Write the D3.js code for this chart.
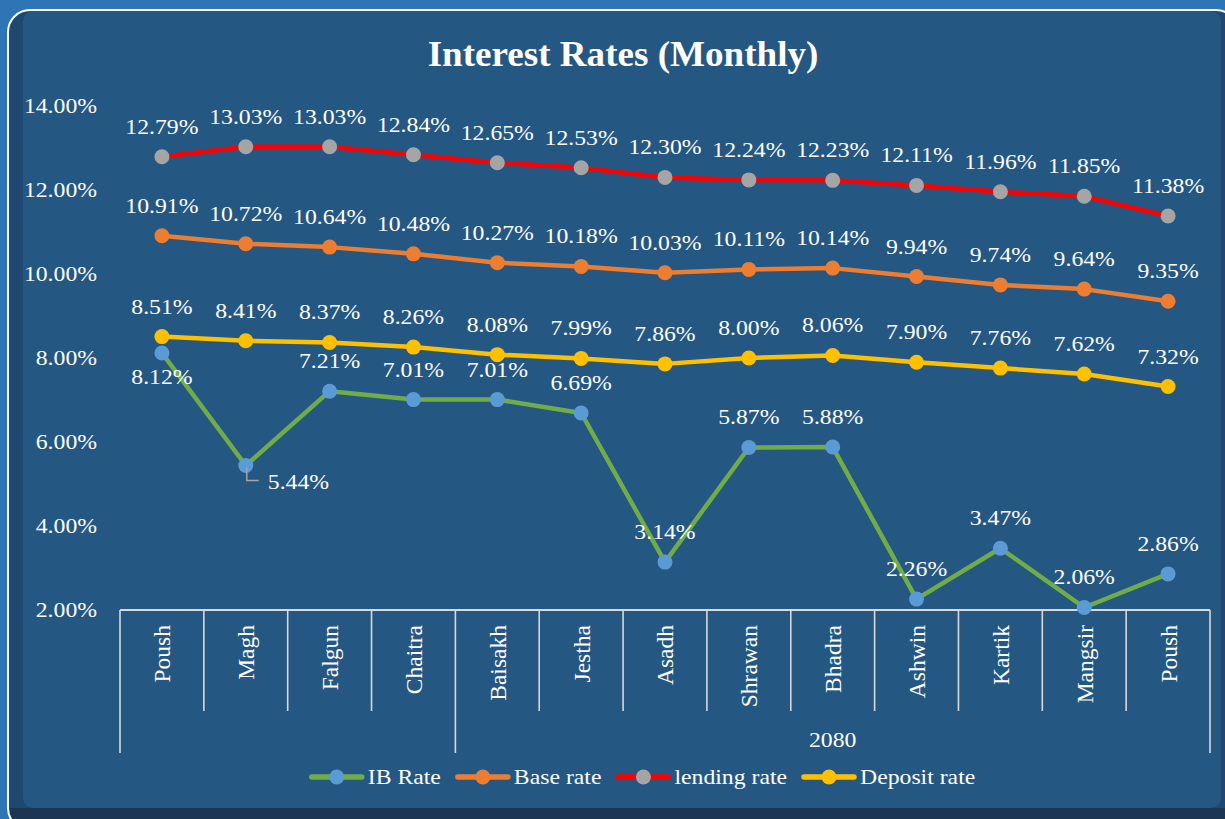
<!DOCTYPE html>
<html>
<head>
<meta charset="utf-8">
<script src="https://cdn.jsdelivr.net/npm/d3@7"></script>
<style>
	body { margin: 0; background: #2e75b6; }
	svg { display: block; }
	text { font-family: "Liberation Serif", "Times New Roman", serif; fill: #fff; }
</style>
</head>
<body>
<svg width="1225" height="819"></svg>
<script>
// chart data
var months    = ["Poush", "Magh", "Falgun", "Chaitra", "Baisakh", "Jestha", "Asadh", "Shrawan", "Bhadra", "Ashwin", "Kartik", "Mangsir", "Poush"]
var yearNames = ["", "2080"]
var yearSpans = [4, 9]
var yTicks    = [2, 4, 6, 8, 10, 12, 14]

var ibRate      = [8.12, 5.44, 7.21, 7.01, 7.01, 6.69, 3.14, 5.87, 5.88, 2.26, 3.47, 2.06, 2.86]
var baseRate    = [10.91, 10.72, 10.64, 10.48, 10.27, 10.18, 10.03, 10.11, 10.14, 9.94, 9.74, 9.64, 9.35]
var lendingRate = [12.79, 13.03, 13.03, 12.84, 12.65, 12.53, 12.30, 12.24, 12.23, 12.11, 11.96, 11.85, 11.38]
var depositRate = [8.51, 8.41, 8.37, 8.26, 8.08, 7.99, 7.86, 8.00, 8.06, 7.90, 7.76, 7.62, 7.32]

var series = [
	{name: "IB Rate",      values: ibRate,      line: "#70ad47", dot: "#5b9bd5"},
	{name: "Base rate",    values: baseRate,    line: "#ed7d31", dot: "#ed7d31"},
	{name: "lending rate", values: lendingRate, line: "#ff0000", dot: "#a5a5a5"},
	{name: "Deposit rate", values: depositRate, line: "#ffc000", dot: "#ffc000"}
]
// where the IB labels sit (others are all above)
var ibPlacement = {0: "below", 1: "right"}

var svg = d3.select("svg")
var SX = 1.13   // the reference text is a little wider than Times

// panel
var defs = svg.append("defs")
defs.append("clipPath").attr("id", "panel")
	.append("rect").attr("x", 8).attr("y", 10).attr("width", 1230).attr("height", 820).attr("rx", 22)

svg.append("rect").attr("width", 1225).attr("height", 819).attr("fill", "#2e75b6")
svg.append("rect")
	.attr("x", 8).attr("y", 10).attr("width", 1230).attr("height", 820).attr("rx", 22)
	.attr("fill", "#1f4770")
var g0 = svg.append("g").attr("clip-path", "url(#panel)")
g0.append("rect").attr("x", 0).attr("y", 808).attr("width", 1225).attr("height", 30).attr("fill", "#1b3553")
g0.append("rect")
	.attr("x", 23).attr("y", 11).attr("width", 1198).attr("height", 797).attr("rx", 10)
	.attr("fill", "#255783")
svg.append("rect")
	.attr("x", 8).attr("y", 10).attr("width", 1230).attr("height", 820).attr("rx", 22)
	.attr("fill", "none").attr("stroke", "#fff").attr("stroke-width", 2)

function txt(sel, x, y, s, anchor){
	return sel.append("text")
		.attr("transform", "translate(" + x + "," + y + ") scale(" + SX + ",1)")
		.attr("text-anchor", anchor || "middle")
		.style("font-size", (s || 21) + "px")
}

// title
txt(svg, 623, 66, 35).style("font-weight", "bold")
	.attr("transform", "translate(623,66) scale(1.06,1)")
	.text("Interest Rates (Monthly)")

// scales
var x = d3.scaleBand().domain(d3.range(months.length)).range([120, 1210])
var cx = function(i){ return x(i) + x.bandwidth() / 2 }
var y = d3.scaleLinear().domain([2, 14]).range([610, 106])

// y axis labels
var yAxis = svg.append("g").attr("transform", "translate(97,0)")
	.call(d3.axisLeft(y).tickValues(yTicks).tickSize(0).tickPadding(0)
		.tickFormat(function(d){ return d3.format(".2f")(d) + "%" }))
yAxis.select(".domain").remove()
yAxis.selectAll("text")
	.attr("x", 0).attr("dy", "0.33em")
	.attr("transform", "scale(" + SX + ",1)")
	.style("font-size", "21px").style("font-family", "Liberation Serif").attr("fill", "#fff")

// category axis
var axisCol = "#d9d9d9"
svg.append("line")
	.attr("x1", 120).attr("x2", 1210).attr("y1", 610).attr("y2", 610)
	.attr("stroke", axisCol).attr("stroke-width", 2)

var groupEdges = [0]
yearSpans.forEach(function(n){ groupEdges.push(groupEdges[groupEdges.length - 1] + n) })

d3.range(months.length + 1).forEach(function(i){
	var xx = i < months.length ? x(i) : x.range()[1]
	var long = groupEdges.indexOf(i) >= 0
	svg.append("line")
		.attr("x1", xx).attr("x2", xx).attr("y1", 610).attr("y2", long ? 753 : 711)
		.attr("stroke", axisCol).attr("stroke-width", 1.6)
})

svg.selectAll(".month").data(months).enter().append("text")
	.attr("class", "month")
	.attr("transform", function(d, i){ return "translate(" + (cx(i) + 1) + ",625) rotate(-90) scale(1.12,1.08)" })
	.attr("text-anchor", "end")
	.attr("dy", "0.33em")
	.style("font-size", "21px")
	.text(function(d){ return d })

yearNames.forEach(function(name, k){
	var a = groupEdges[k], b = groupEdges[k + 1]
	var x0 = x(a), x1 = b < months.length ? x(b) : x.range()[1]
	txt(svg, (x0 + x1) / 2, 747).text(name)
})

// lines and markers
var line = d3.line()
	.x(function(d, i){ return cx(i) })
	.y(function(d){ return y(d) })

series.forEach(function(s){
	svg.append("path")
		.datum(s.values)
		.attr("d", line)
		.attr("fill", "none")
		.attr("stroke", s.line)
		.attr("stroke-width", 4.5)
		.attr("stroke-linejoin", "round")
		.attr("stroke-linecap", "round")
	svg.selectAll(null).data(s.values).enter().append("circle")
		.attr("cx", function(d, i){ return cx(i) })
		.attr("cy", function(d){ return y(d) })
		.attr("r", 7.5)
		.attr("fill", s.dot)
})

// data labels
series.forEach(function(s, k){
	s.values.forEach(function(v, i){
		var pos = k === 0 ? (ibPlacement[i] || "above") : "above"
		var px = cx(i), py = y(v)
		var label = d3.format(".2f")(v) + "%"
		if (pos === "above") txt(svg, px, py - 23).text(label)
		else if (pos === "below") txt(svg, px, py + 31).text(label)
		else {
			svg.append("path")
				.attr("d", "M" + (px + 1) + "," + (py + 2) + "V" + (py + 15) + "H" + (px + 13))
				.attr("fill", "none").attr("stroke", "#a6a6a6").attr("stroke-width", 1.5)
			txt(svg, px + 22, py + 23, 21, "start").text(label)
		}
	})
})

// legend
var legend = svg.append("g")
var lx = 0
series.forEach(function(s){
	var it = legend.append("g").attr("transform", "translate(" + lx + ",0)")
	it.append("line").attr("x1", 3).attr("x2", 53).attr("y1", 0).attr("y2", 0)
		.attr("stroke", s.line).attr("stroke-width", 5.5).attr("stroke-linecap", "round")
	it.append("circle").attr("cx", 28).attr("r", 7.5).attr("fill", s.dot)
	var t = txt(it, 59, 7, 21, "start").text(s.name)
	lx += 59 + t.node().getComputedTextLength() * SX + 14
})
legend.attr("transform", "translate(" + (642 - (lx - 14) / 2) + ",777)")
</script>
</body>
</html>
